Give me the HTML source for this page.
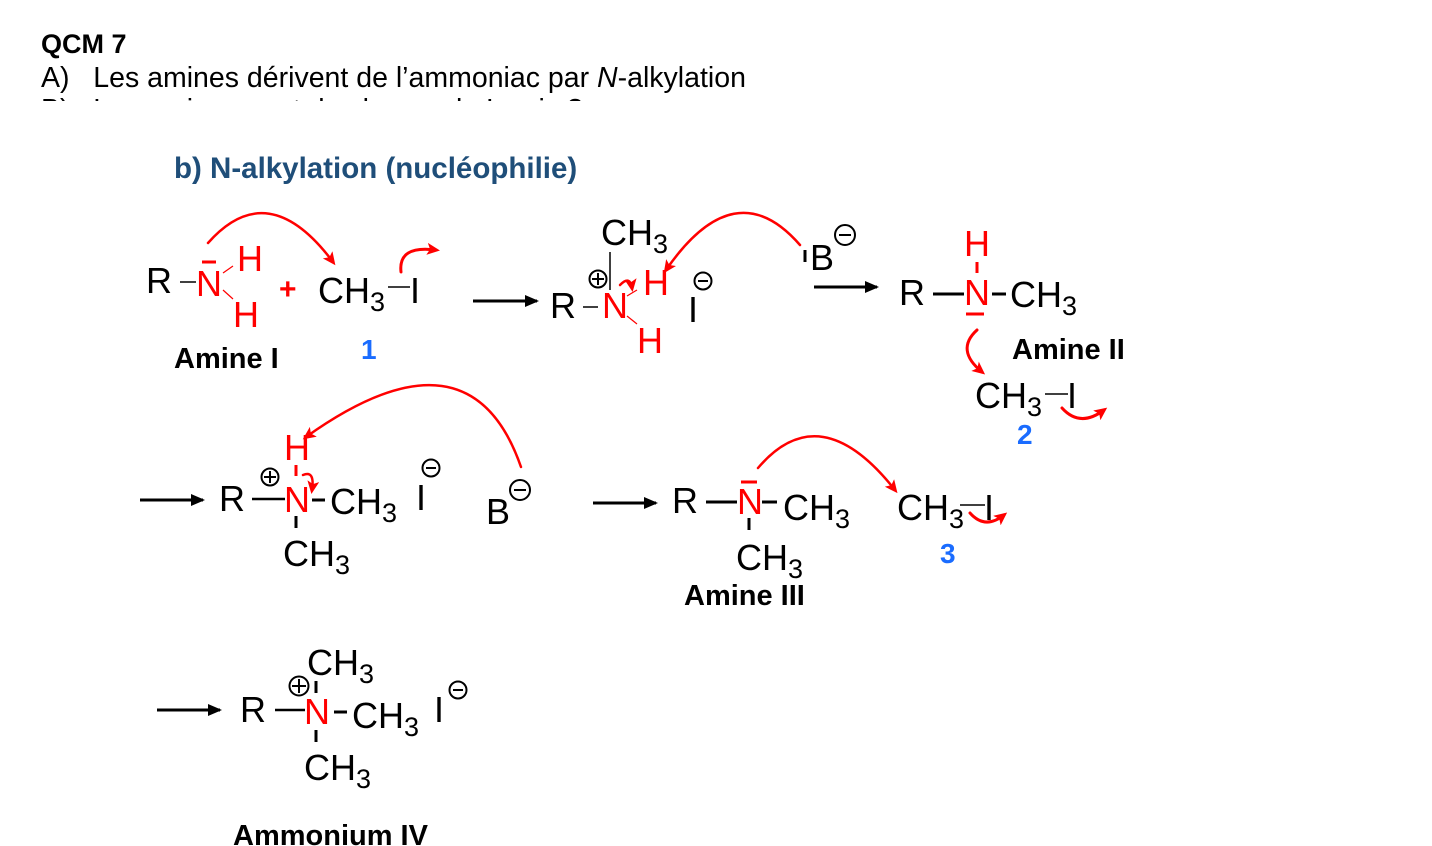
<!DOCTYPE html>
<html><head><meta charset="utf-8"><style>
html,body{margin:0;padding:0;background:#fff;width:1432px;height:846px;overflow:hidden}
svg{position:absolute;left:0;top:0}
text{font-family:"Liberation Sans",Arial,sans-serif}
.m{font-size:36px;fill:#000}
.r{font-size:36px;fill:#ff0000}
.b{font-weight:bold;font-size:29px;fill:#000}
.n{font-weight:bold;font-size:28px;fill:#1a6cff}
.s{font-size:27px}
</style></head><body>
<svg width="1432" height="846" viewBox="0 0 1432 846">
<defs>
<marker id="ah" markerWidth="13" markerHeight="12" refX="9" refY="6" orient="auto" markerUnits="userSpaceOnUse"><path d="M0,0 L13,6 L0,12 L3,6 Z" fill="#ff0000"/></marker>
<marker id="bh" markerWidth="14" markerHeight="12" refX="12" refY="6" orient="auto" markerUnits="userSpaceOnUse"><path d="M0,0 L14,6 L0,12 Z" fill="#000"/></marker>
<clipPath id="cl"><rect x="0" y="0" width="1432" height="101"/></clipPath>
</defs>
<text x="41" y="53" style="font-weight:bold;font-size:27px">QCM 7</text>
<text x="41" y="87" style="font-size:28.5px">A)&#160;&#160;&#160;Les amines dérivent de l’ammoniac par <tspan font-style="italic">N</tspan>-alkylation</text>
<text x="41" y="119" clip-path="url(#cl)" style="font-size:28.5px">B)&#160;&#160;&#160;Les amines sont des bases de Lewis ?</text>
<text x="174" y="178" style="font-weight:bold;font-size:29.5px;fill:#1f4e79">b) N-alkylation (nucléophilie)</text>

<g fill="none" stroke-linecap="round">
<path d="M208,243 Q268,175 333,262" stroke="#ff0000" stroke-width="2.5" marker-end="url(#ah)"/>
<path d="M401,272 Q398,245 436,250" stroke="#ff0000" stroke-width="3" marker-end="url(#ah)"/>
<path d="M800,245 Q735,170 666,270" stroke="#ff0000" stroke-width="2.5" marker-end="url(#ah)"/>
<path d="M620,285 Q630,275 632,288" stroke="#ff0000" stroke-width="2.5" marker-end="url(#ah)"/>
<path d="M977,330 Q955,350 982,372" stroke="#ff0000" stroke-width="3" marker-end="url(#ah)"/>
<path d="M1062,408 Q1080,428 1104,410" stroke="#ff0000" stroke-width="3" marker-end="url(#ah)"/>
<path d="M521,467 Q470,320 306,437" stroke="#ff0000" stroke-width="2.5" marker-end="url(#ah)"/>
<path d="M303,475 Q315,470 312,490" stroke="#ff0000" stroke-width="2.5" marker-end="url(#ah)"/>
<path d="M758,468 Q820,395 895,490" stroke="#ff0000" stroke-width="2.5" marker-end="url(#ah)"/>
<path d="M970,513 Q985,530 1004,515" stroke="#ff0000" stroke-width="3" marker-end="url(#ah)"/>
</g>

<g stroke="#000">
<line x1="473" y1="301" x2="537" y2="301" stroke-width="3" marker-end="url(#bh)"/>
<line x1="814" y1="287" x2="877" y2="287" stroke-width="3" marker-end="url(#bh)"/>
<line x1="140" y1="500" x2="203" y2="500" stroke-width="3" marker-end="url(#bh)"/>
<line x1="593" y1="503" x2="656" y2="503" stroke-width="3" marker-end="url(#bh)"/>
<line x1="157" y1="710" x2="220" y2="710" stroke-width="3" marker-end="url(#bh)"/>
<line x1="180" y1="282" x2="196" y2="282" stroke-width="1.5"/>
<line x1="388" y1="287" x2="410" y2="287" stroke-width="1.5"/>
<line x1="583" y1="307" x2="598" y2="307" stroke-width="1.5"/>
<line x1="610" y1="252" x2="610" y2="290" stroke-width="1.5"/>
<line x1="805" y1="250" x2="805" y2="262" stroke-width="3"/>
<line x1="933" y1="294" x2="964" y2="294" stroke-width="3"/>
<line x1="992" y1="294" x2="1006" y2="294" stroke-width="3"/>
<line x1="1045" y1="394" x2="1068" y2="394" stroke-width="1.5"/>
<line x1="252" y1="499" x2="285" y2="499" stroke-width="2.5"/>
<line x1="312" y1="500" x2="325" y2="500" stroke-width="3"/>
<line x1="296" y1="516" x2="296" y2="528" stroke-width="3"/>
<line x1="706" y1="502" x2="737" y2="502" stroke-width="3"/>
<line x1="762" y1="502" x2="777" y2="502" stroke-width="3"/>
<line x1="749" y1="518" x2="749" y2="530" stroke-width="3"/>
<line x1="960" y1="505" x2="985" y2="505" stroke-width="1.5"/>
<line x1="275" y1="710" x2="305" y2="710" stroke-width="2.5"/>
<line x1="316" y1="681" x2="316" y2="693" stroke-width="3"/>
<line x1="334" y1="712" x2="347" y2="712" stroke-width="3"/>
<line x1="316" y1="730" x2="316" y2="742" stroke-width="3"/>
</g>
<g stroke="#ff0000">
<line x1="202" y1="262" x2="216" y2="262" stroke-width="3"/>
<line x1="223" y1="273" x2="233" y2="266" stroke-width="1.2"/>
<line x1="223" y1="290" x2="233" y2="299" stroke-width="1.2"/>
<line x1="627" y1="296" x2="637" y2="290" stroke-width="1.2"/>
<line x1="627" y1="316" x2="637" y2="324" stroke-width="1.2"/>
<line x1="977" y1="262" x2="977" y2="273" stroke-width="3"/>
<line x1="966" y1="314" x2="984" y2="314" stroke-width="3"/>
<line x1="296" y1="465" x2="296" y2="476" stroke-width="3"/>
<line x1="741" y1="482" x2="757" y2="482" stroke-width="3"/>
</g>
<g fill="none" stroke="#000" stroke-width="2">
<circle cx="598" cy="279" r="8.5"/><path d="M592,279 H604 M598,273 V285"/>
<circle cx="270" cy="477" r="8.5"/><path d="M264,477 H276 M270,471 V483"/>
<circle cx="299" cy="686" r="9.5"/><path d="M292,686 H306 M299,679 V693"/>
<circle cx="703" cy="281" r="8.5"/><path d="M698,281 H708"/>
<circle cx="845" cy="235" r="10"/><path d="M839,235 H851"/>
<circle cx="431" cy="468" r="8.5"/><path d="M426,468 H436"/>
<circle cx="520" cy="490" r="10"/><path d="M514,490 H526"/>
<circle cx="458" cy="690" r="8.5"/><path d="M453,690 H463"/>
</g>

<text class="m" x="146" y="293">R</text>
<text class="r" x="196" y="296">N</text>
<text class="r" x="237" y="271">H</text>
<text class="r" x="233" y="327">H</text>
<text x="279" y="299" style="font-size:30px;font-weight:bold;fill:#ff0000">+</text>
<text class="m" x="318" y="303">CH<tspan class="s" dy="8">3</tspan></text>
<text class="m" x="410" y="303">I</text>
<text class="b" x="174" y="368">Amine I</text>
<text class="n" x="361" y="359">1</text>

<text class="m" x="601" y="245">CH<tspan class="s" dy="8">3</tspan></text>
<text class="m" x="550" y="318">R</text>
<text class="r" x="602" y="318">N</text>
<text class="r" x="643" y="295">H</text>
<text class="r" x="637" y="353">H</text>
<text class="m" x="688" y="322">I</text>
<text class="m" x="810" y="270">B</text>

<text class="m" x="899" y="305">R</text>
<text class="r" x="964" y="305">N</text>
<text class="r" x="964" y="256">H</text>
<text class="m" x="1010" y="307">CH<tspan class="s" dy="8">3</tspan></text>
<text class="b" x="1012" y="359">Amine II</text>
<text class="m" x="975" y="408">CH<tspan class="s" dy="8">3</tspan></text>
<text class="m" x="1067" y="408">I</text>
<text class="n" x="1017" y="444">2</text>

<text class="m" x="219" y="511">R</text>
<text class="r" x="284" y="512">N</text>
<text class="r" x="284" y="460">H</text>
<text class="m" x="330" y="514">CH<tspan class="s" dy="8">3</tspan></text>
<text class="m" x="283" y="566">CH<tspan class="s" dy="8">3</tspan></text>
<text class="m" x="416" y="510">I</text>
<text class="m" x="486" y="524">B</text>

<text class="m" x="672" y="513">R</text>
<text class="r" x="737" y="514">N</text>
<text class="m" x="783" y="520">CH<tspan class="s" dy="8">3</tspan></text>
<text class="m" x="736" y="570">CH<tspan class="s" dy="8">3</tspan></text>
<text class="b" x="684" y="605">Amine III</text>
<text class="m" x="897" y="520">CH<tspan class="s" dy="8">3</tspan></text>
<text class="m" x="984" y="520">I</text>
<text class="n" x="940" y="563">3</text>

<text class="m" x="240" y="722">R</text>
<text class="r" x="304" y="724">N</text>
<text class="m" x="307" y="675">CH<tspan class="s" dy="8">3</tspan></text>
<text class="m" x="352" y="728">CH<tspan class="s" dy="8">3</tspan></text>
<text class="m" x="304" y="780">CH<tspan class="s" dy="8">3</tspan></text>
<text class="m" x="434" y="722">I</text>
<text class="b" x="233" y="845">Ammonium IV</text>
</svg>
</body></html>
